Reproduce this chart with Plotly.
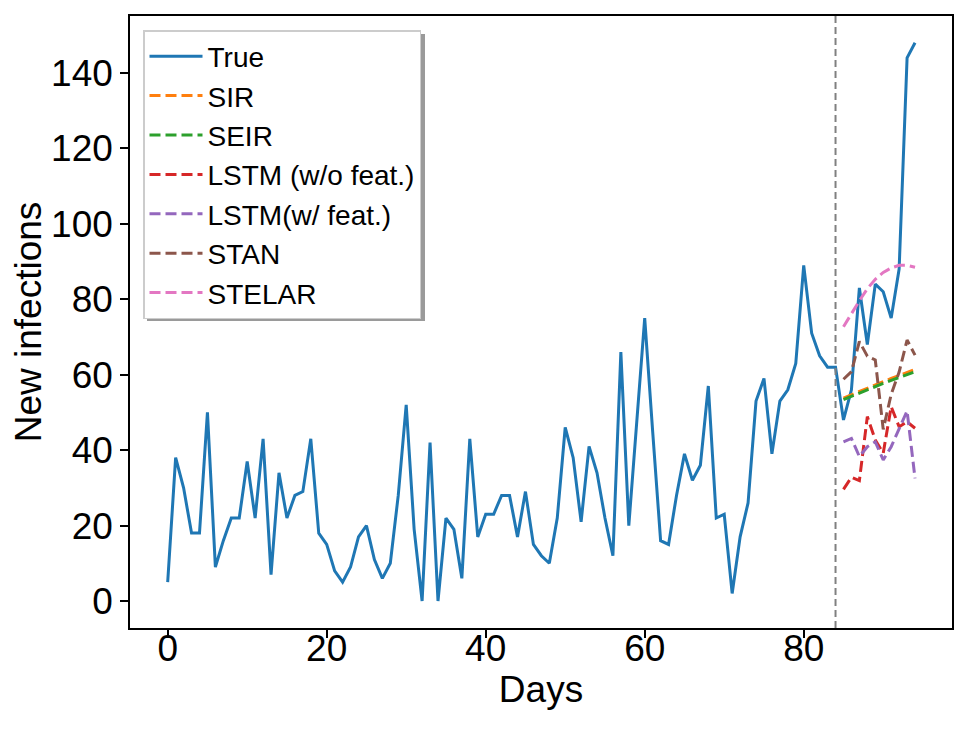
import plotly.graph_objects as go

# ---------------- data ----------------
true_days = list(range(0, 95))
true_vals = [5, 38, 30, 18, 18, 50, 9, 16, 22, 22,
             37, 22, 43, 7, 34, 22, 28, 29, 43, 18,
             15, 8, 5, 9, 17, 20, 11, 6, 10, 28,
             52, 19, 0, 42, 0, 22, 19, 6, 43, 17,
             23, 23, 28, 28, 17, 29, 15, 12, 10, 22,
             46, 38, 21, 41, 34, 22, 12, 66, 20, 47,
             75, 45, 16, 15, 28, 39, 32, 36, 57, 22,
             23, 2, 17, 26, 53, 59, 39, 53, 56, 63,
             89, 71, 65, 62, 62, 48, 56, 83, 68, 84,
             82, 75, 88, 144, 148]

pred_days = list(range(85, 95))
sir_vals = [53.8, 54.7, 55.6, 56.5, 57.4, 58.2, 59.0, 59.8, 60.6, 61.4]
seir_vals = [53.4, 54.3, 55.2, 56.0, 56.9, 57.7, 58.5, 59.3, 60.1, 60.8]
lstm_wo_vals = [29.6, 32.8, 31.9, 48.9, 42.7, 39.2, 51.5, 46.2, 47.5, 45.8]
lstm_w_vals = [42.2, 43.1, 38.3, 40.9, 42.2, 37.4, 40.9, 45.8, 50.4, 32.5]
stan_vals = [58.8, 60.8, 68.8, 64.9, 63.9, 45.5, 54.8, 60.7, 69.2, 65.2]
stelar_vals = [72.7, 76.2, 79.6, 82.8, 85.3, 87.1, 88.3, 89.0, 89.0, 88.5]

forecast_start = 84

series_names = ["SIR", "SEIR", "LSTM (w/o feat.)", "LSTM(w/ feat.)", "STAN", "STELAR"]
series_vals = [sir_vals, seir_vals, lstm_wo_vals, lstm_w_vals, stan_vals, stelar_vals]
series_colors = ["#ff7f0e", "#2ca02c", "#d62728", "#9467bd", "#8c564b", "#e377c2"]

FONT = "Liberation Sans, Arial, sans-serif"

# page body has an 8px margin, so the figure is drawn 8px in from the top-left
PAGE_OFF = 8
W, H = 969 - PAGE_OFF, 733 - PAGE_OFF
L, R, T, B = 130 - PAGE_OFF, 17, 16 - PAGE_OFF, 105
PW, PH = 952 - 130, 628 - 16


def px_to_paper_x(px):
    return (px - 130) / PW


def px_to_paper_y(py):
    return (628 - py) / PH


fig = go.Figure()
fig.add_trace(go.Scatter(x=true_days, y=true_vals, mode="lines", name="True",
                         line=dict(color="#1f77b4", width=3)))
for name, vals, col in zip(series_names, series_vals, series_colors):
    fig.add_trace(go.Scatter(x=pred_days, y=vals, mode="lines", name=name,
                             line=dict(color=col, width=3, dash="11px,5px")))

fig.add_shape(type="line", xref="x", yref="paper", x0=forecast_start, x1=forecast_start,
              y0=0, y1=1, line=dict(color="#808080", width=2, dash="7px,4px"), layer="above")

# legend shadow
fig.add_shape(type="rect", xref="paper", yref="paper",
              x0=px_to_paper_x(147), x1=px_to_paper_x(425),
              y0=px_to_paper_y(321), y1=px_to_paper_y(34),
              fillcolor="#9a9a9a", line=dict(width=0), layer="above")

axis_common = dict(showline=True, linecolor="black", linewidth=1.5, mirror=True,
                   ticks="outside", ticklen=8, tickwidth=1.5, tickcolor="black",
                   showgrid=False, zeroline=False, automargin=False,
                   tickfont=dict(family=FONT, size=37, color="black"))

fig.update_xaxes(range=[-4.74, 98.65], tickvals=[0, 20, 40, 60, 80],
                 ticklabelstandoff=-21,
                 title=dict(text="Days", font=dict(family=FONT, size=37, color="black"), standoff=2),
                 **axis_common)
fig.update_yaxes(range=[-7.16, 155.1], tickvals=[0, 20, 40, 60, 80, 100, 120, 140],
                 title=dict(text="New infections", font=dict(family=FONT, size=37, color="black"), standoff=0),
                 **axis_common)

fig.update_layout(
    width=W, height=H,
    margin=dict(l=L, r=R, t=T, b=B),
    paper_bgcolor="white", plot_bgcolor="white",
    font=dict(family=FONT, color="black"),
    legend=dict(x=px_to_paper_x(143), y=px_to_paper_y(30), xanchor="left", yanchor="top",
                bgcolor="white", bordercolor="#cccccc", borderwidth=1.5,
                font=dict(family=FONT, size=28, color="black"),
                itemwidth=53, tracegroupgap=0),
    showlegend=True,
)

fig.write_html("out.html")
